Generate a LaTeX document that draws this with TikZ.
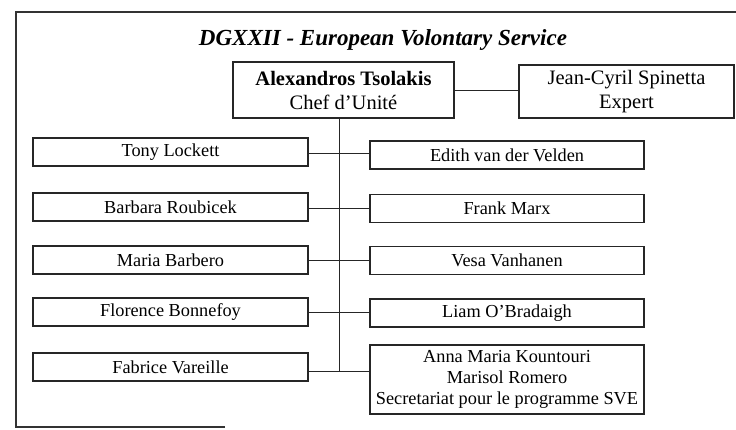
\documentclass[tikz,border=0pt]{standalone}
\usepackage{fontspec}
\setmainfont{Liberation Serif}
\begin{document}
\begin{tikzpicture}[x=1pt,y=-1pt,
  ink/.style={black!88},
  rowbox/.style={draw=black!85, line width=1.1pt, minimum height=28pt, inner sep=0pt, align=center, font=\fontsize{18.3}{21}\selectfont},
  leftbox/.style={rowbox, minimum width=275pt},
  rightbox/.style={rowbox, minimum width=274pt},
  topbox/.style={draw=black!85, line width=1.1pt, inner sep=0pt, align=center, font=\fontsize{20.5}{24}\selectfont},
  link/.style={draw=black!85, line width=0.9pt}]
\useasboundingbox (0,0) rectangle (736,429);
% frame
\draw[black!80, line width=1.8pt] (225,427) -- (16,427) -- (16,12) -- (736,12);
% title
\node[anchor=base, inner sep=0pt, font=\fontsize{23}{27}\selectfont\bfseries\itshape] (title) at (383,45) {DGXXII - European Volontary Service};
% top boxes
\node[topbox, minimum width=221pt, minimum height=56pt] (chef) at (343.5,90) {\textbf{Alexandros Tsolakis}\\Chef d'Unit\'e};
\node[topbox, minimum width=215pt, minimum height=53pt] (expert) at (626.5,91.5) {Jean-Cyril Spinetta\\Expert};
% left column
\node[leftbox] (l1) at (170.5,152) {Tony Lockett};
\node[leftbox] (l2) at (170.5,207) {Barbara Roubicek};
\node[leftbox] (l3) at (170.5,260) {Maria Barbero};
\node[leftbox] (l4) at (170.5,312) {Florence Bonnefoy};
\node[leftbox] (l5) at (170.5,367) {Fabrice Vareille};
% right column
\node[rightbox] (r1) at (507,155) {Edith van der Velden};
\node[rightbox] (r2) at (507,208.5) {Frank Marx};
\node[rightbox] (r3) at (507,260.5) {Vesa Vanhanen};
\node[rightbox] (r4) at (507,313) {Liam O'Bradaigh};
\node[rightbox, minimum height=69pt] (r5) at (507,379.5) {Anna Maria Kountouri\\Marisol Romero\\Secretariat pour le programme SVE};
% connectors
\coordinate (v0) at ([xshift=-4.5pt]chef.south);
\coordinate (v1) at (v0 |- 0,371);
\draw[link] (chef.east) -- (chef.east -| expert.west);
\draw[link] (v0) -- (v1);
\coordinate (y1) at (0,153);
\coordinate (y2) at (0,208);
\coordinate (y3) at (0,260);
\coordinate (y4) at (0,312);
\coordinate (y5) at (0,371);
\draw[link] (l1.east |- y1) -- (r1.west |- y1);
\draw[link] (l2.east |- y2) -- (r2.west |- y2);
\draw[link] (l3.east |- y3) -- (r3.west |- y3);
\draw[link] (l4.east |- y4) -- (r4.west |- y4);
\draw[link] (l5.east |- y5) -- (r5.west |- y5);
\end{tikzpicture}
\end{document}
